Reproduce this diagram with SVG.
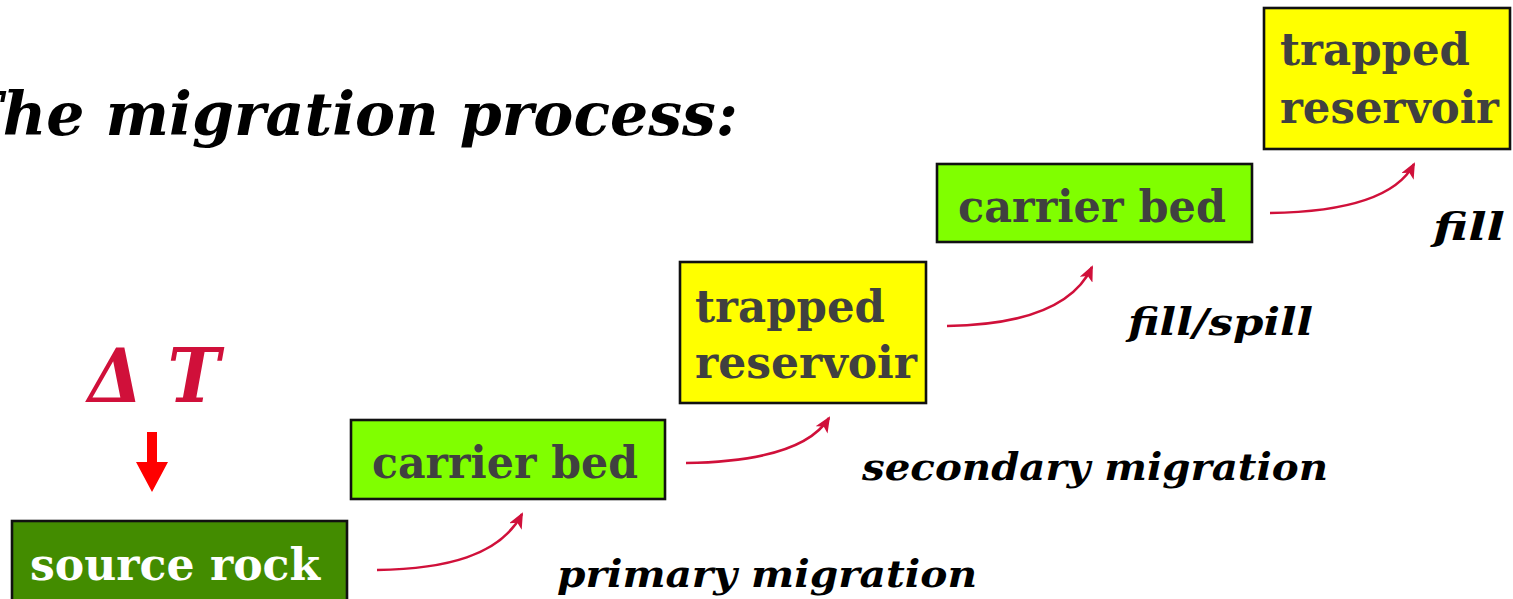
<svg xmlns="http://www.w3.org/2000/svg" width="1513" height="599" viewBox="0 0 1513 599">
<style>
.box{stroke:#111;stroke-width:2.6}
.green{fill:#80ff00}
.yellow{fill:#ffff00}
.dark{fill:#438c00}
.bt{font-family:"DejaVu Serif","Liberation Serif",serif;font-weight:bold;font-size:45px;fill:#404040}
.lab{font-family:"DejaVu Serif","Liberation Serif",serif;font-weight:bold;font-style:italic;font-size:38px;fill:#000}
.conn{fill:none;stroke:#d0103a;stroke-width:2.6}
</style>
<defs>
<marker id="ah" markerWidth="16" markerHeight="14" refX="14" refY="7" orient="auto" markerUnits="userSpaceOnUse">
<path d="M0,0 L16,7 L0,14 L4,7 Z" fill="#d0103a"/>
</marker>
</defs>
<rect width="1513" height="599" fill="#fff"/>
<text id="title" x="-42" y="135" font-family="DejaVu Serif, Liberation Serif, serif" font-weight="bold" font-style="italic" font-size="60" textLength="780" lengthAdjust="spacingAndGlyphs" fill="#000">The migration process:</text>
<g id="deltaT">
<text x="88" y="402" font-family="DejaVu Serif, Liberation Serif, serif" font-weight="bold" font-style="italic" font-size="74" fill="#d0103a" textLength="132" lengthAdjust="spacingAndGlyphs">Δ T</text>
<path d="M147,432 H157 V462 H168 L152,492 L136,462 H147 Z" fill="#ff0000"/>
</g>
<g id="source-rock">
<rect class="box dark" x="12" y="521" width="335" height="82"/>
<text class="bt" x="30" y="580" style="fill:#fff" textLength="290" lengthAdjust="spacingAndGlyphs">source rock</text>
</g>
<g id="carrier-bed-1">
<rect class="box green" x="351" y="420" width="314" height="79"/>
<text class="bt" x="372" y="478" textLength="266" lengthAdjust="spacingAndGlyphs">carrier bed</text>
</g>
<g id="trapped-reservoir-1">
<rect class="box yellow" x="680" y="262" width="246" height="141"/>
<text class="bt" x="695" y="322" textLength="190" lengthAdjust="spacingAndGlyphs">trapped</text>
<text class="bt" x="695" y="378" textLength="222" lengthAdjust="spacingAndGlyphs">reservoir</text>
</g>
<g id="carrier-bed-2">
<rect class="box green" x="937" y="164" width="315" height="78"/>
<text class="bt" x="958" y="222" textLength="268" lengthAdjust="spacingAndGlyphs">carrier bed</text>
</g>
<g id="trapped-reservoir-2">
<rect class="box yellow" x="1264" y="8" width="246" height="141"/>
<text class="bt" x="1280" y="65" textLength="190" lengthAdjust="spacingAndGlyphs">trapped</text>
<text class="bt" x="1280" y="123" textLength="219" lengthAdjust="spacingAndGlyphs">reservoir</text>
</g>
<g id="connectors">
<path class="conn" d="M377,570 C445,569 500,556 522,514" marker-end="url(#ah)"/>
<path class="conn" d="M686,463 C754,462 809,450 829,418" marker-end="url(#ah)"/>
<path class="conn" d="M947,326 C1015,325 1072,310 1092,267" marker-end="url(#ah)"/>
<path class="conn" d="M1270,213 C1338,212 1395,200 1414,164" marker-end="url(#ah)"/>
</g>
<g id="labels">
<text class="lab" x="557" y="587" textLength="420" lengthAdjust="spacingAndGlyphs">primary migration</text>
<text class="lab" x="862" y="480" textLength="466" lengthAdjust="spacingAndGlyphs">secondary migration</text>
<text class="lab" x="1128" y="335" textLength="185" lengthAdjust="spacingAndGlyphs">fill/spill</text>
<text class="lab" x="1433" y="240" textLength="72" lengthAdjust="spacingAndGlyphs">fill</text>
</g>
</svg>
